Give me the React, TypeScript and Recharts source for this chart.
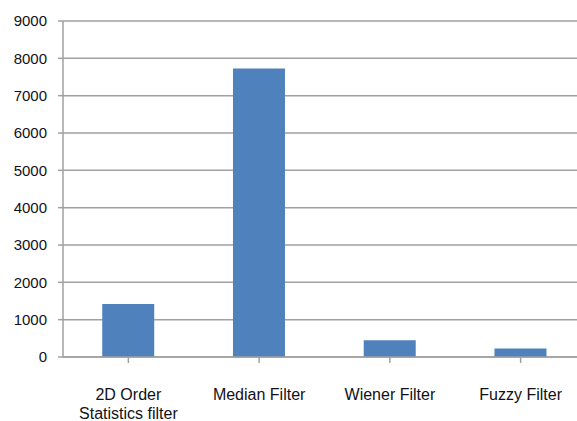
import { Bar, BarChart, CartesianGrid, XAxis, YAxis } from "recharts";

// Filter comparison — one value per filtering method.
const filters = ["2D Order\nStatistics filter", "Median Filter", "Wiener Filter", "Fuzzy Filter"];
const values = [1420, 7730, 450, 230];
const yTicks = [0, 1000, 2000, 3000, 4000, 5000, 6000, 7000, 8000, 9000];

const data = filters.map((name, i) => ({ name, value: values[i] }));

const GRID = "#a0a0a0";
const TEXT = "#111118";
const FONT = "'Liberation Sans', Arial, sans-serif";

// Category labels may wrap onto a second line (split on "\n").
function CategoryTick({ x, y, payload }: any) {
  const lines = String(payload.value).split("\n");
  return (
    <text
      x={x}
      y={y + 35}
      textAnchor="middle"
      fill={TEXT}
      fontSize={16}
      fontFamily={FONT}
    >
      {lines.map((line, i) => (
        <tspan key={i} x={x} dy={i === 0 ? 0 : 19}>
          {line}
        </tspan>
      ))}
    </text>
  );
}

export default function App() {
  return (
    <div
      style={{
        position: "absolute",
        left: 0,
        top: 0,
        width: 577,
        height: 421,
        overflow: "hidden",
        background: "#fff",
      }}
    >
      <BarChart
        width={600}
        height={421}
        data={data}
        margin={{ top: 21, right: 14, left: 0, bottom: 0 }}
        barCategoryGap="30%"
      >
        <CartesianGrid vertical={false} stroke={GRID} strokeWidth={1.5} />
        <XAxis
          dataKey="name"
          height={64}
          interval={0}
          axisLine={{ stroke: GRID, strokeWidth: 1.5 }}
          tickLine={{ stroke: GRID, strokeWidth: 1.5 }}
          tickSize={6}
          tick={<CategoryTick />}
        />
        <YAxis
          width={63}
          domain={[0, 9000]}
          ticks={yTicks}
          interval={0}
          axisLine={{ stroke: GRID, strokeWidth: 1.5 }}
          tickLine={{ stroke: GRID, strokeWidth: 1.5 }}
          tickSize={5}
          tickMargin={11}
          tick={{ fill: TEXT, fontSize: 15, fontFamily: FONT }}
        />
        <Bar dataKey="value" fill="#4f81bd" isAnimationActive={false} />
      </BarChart>
    </div>
  );
}
